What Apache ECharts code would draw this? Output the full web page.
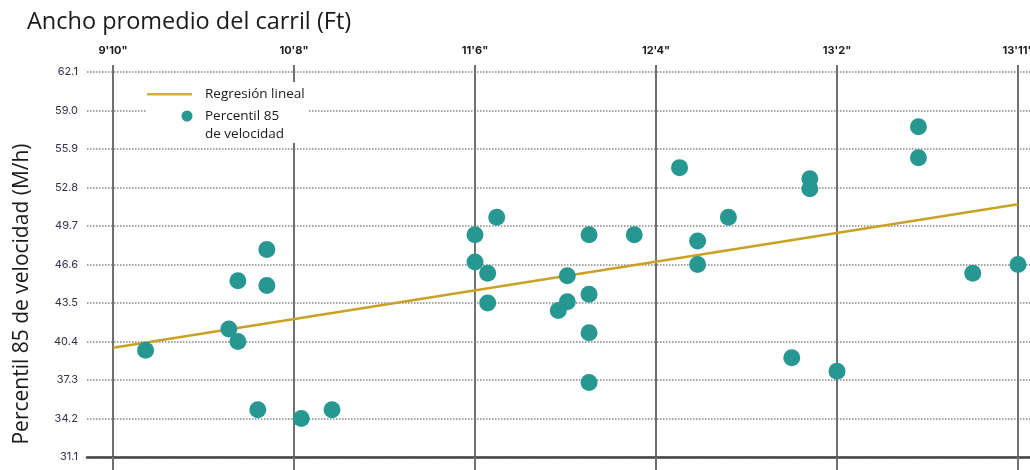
<!DOCTYPE html>
<html>
<head>
<meta charset="utf-8">
<script src="https://cdn.jsdelivr.net/npm/echarts@6/dist/echarts.min.js"></script>
<style>
  html, body { margin: 0; padding: 0; background: #fff; }
  #chart { width: 1030px; height: 470px; }
</style>
</head>
<body>
<div id="chart"></div>
<script>
// Lane width (inches) ticks shown along the top axis
const xTicks = [118, 128, 138, 148, 158, 168];
const xTickLabels = ['9\'10"', '10\'8"', '11\'6"', '12\'4"', '13\'2"', '13\'11"'];
// Speed ticks (mph)
const yTicks = [31.1, 34.2, 37.3, 40.4, 43.5, 46.6, 49.7, 52.8, 55.9, 59.0, 62.1];

// Observed sites: average lane width (inches) and 85th percentile speed
const laneWidthIn = [
  119.8, 124.4, 124.9, 124.9, 126.5, 126.5, 126.0, 128.4, 130.1,
  138.0, 139.2, 138.0, 138.7, 138.7, 143.1, 143.1, 142.6, 144.3, 144.3, 144.3, 144.3, 146.8,
  150.3, 150.3, 152.0, 149.3, 156.5, 156.5, 162.5, 162.5, 155.5, 158.0, 165.5, 168.0
];
const speed85 = [
  39.7, 41.4, 40.4, 45.3, 47.8, 44.9, 34.9, 34.2, 34.9,
  49.0, 50.4, 46.8, 45.9, 43.5, 45.7, 43.6, 42.9, 49.0, 44.2, 41.1, 37.1, 49.0,
  48.5, 46.6, 50.4, 54.4, 53.5, 52.7, 57.7, 55.2, 39.1, 38.0, 45.9, 46.6
];

// Linear regression line endpoints
const regressionX = [118, 168];
const regressionY = [39.9, 51.45];

const seriesNames = ['Regresión lineal', 'Percentil 85 de velocidad'];

const points = laneWidthIn.map((x, i) => [x, speed85[i]]);
const regression = regressionX.map((x, i) => [x, regressionY[i]]);

const Y_MIN = yTicks[0], Y_MAX = yTicks[yTicks.length - 1];
const X_MIN = xTicks[0], X_MAX = xTicks[xTicks.length - 1];
const vLine = { color: '#707070', width: 2 };

const chart = echarts.init(document.getElementById('chart'), null, { renderer: 'canvas' });

chart.setOption({
  animation: false,
  backgroundColor: '#fff',
  title: {
    text: 'Ancho promedio del carril (Ft)',
    left: 27, top: 10, padding: 0,
    textStyle: { fontFamily: 'Open Sans', fontSize: 23.5, fontWeight: 'normal', color: '#1a1a1a' }
  },
  graphic: [
    {
      type: 'rect', left: 146, top: 82, z: 3,
      shape: { width: 163, height: 61 },
      style: { fill: '#fff' }
    },
    {
      type: 'text', x: 22, y: 294, rotation: Math.PI / 2,
      style: {
        text: 'Percentil 85 de velocidad (M/h)',
        fontFamily: 'Open Sans', fontSize: 21, fill: '#1a1a1a',
        align: 'center', verticalAlign: 'middle'
      }
    }
  ],
  legend: [
    {
      data: [{ name: seriesNames[0], icon: 'rect' }], left: 147, top: 87.25, padding: 0,
      itemWidth: 45, itemHeight: 2.5, selectedMode: false, z: 5,
      itemStyle: { color: '#d2ac3c', borderWidth: 0 },
      textStyle: { fontFamily: 'Open Sans', fontSize: 13.5, color: '#1a1a1a', padding: [0, 0, 0, 8] }
    },
    {
      // leading blank line keeps the marker beside the first line of the label
      data: [seriesNames[1]], left: 181.5, top: 89, padding: 0,
      itemWidth: 11, itemHeight: 11, selectedMode: false, z: 5,
      formatter: () => ' \nPercentil 85\nde velocidad',
      textStyle: {
        fontFamily: 'Open Sans', fontSize: 13.5, color: '#1a1a1a',
        lineHeight: 18, padding: [0, 0, 0, 7.5]
      }
    }
  ],
  grid: [
    { left: 87, right: 0, top: 72, bottom: 13, containLabel: false, outerBoundsMode: 'none' },
    { left: 113, right: 12, top: 72, bottom: 13, containLabel: false, outerBoundsMode: 'none' }
  ],
  xAxis: [
    {
      gridIndex: 0, type: 'value', min: 0, max: 1, position: 'bottom',
      axisLine: { show: true, lineStyle: { color: '#444', width: 2.5 } },
      axisTick: { show: false }, axisLabel: { show: false }, splitLine: { show: false }
    },
    {
      gridIndex: 1, type: 'value', min: X_MIN, max: X_MAX, interval: 10, position: 'top',
      axisLine: { show: false },
      axisTick: { show: true, length: 7, customValues: xTicks, lineStyle: vLine },
      axisLabel: {
        show: true, customValues: xTicks, margin: 16,
        formatter: v => xTickLabels[xTicks.indexOf(v)] || '',
        fontFamily: 'Inter', fontSize: 11, fontWeight: 'bold', color: '#1a1a1a'
      },
      splitLine: { show: true, lineStyle: vLine }
    },
    {
      gridIndex: 1, type: 'value', min: X_MIN, max: X_MAX, interval: 10, position: 'bottom',
      axisLine: { show: false },
      axisTick: { show: true, length: 14, customValues: xTicks, lineStyle: vLine },
      axisLabel: { show: false }, splitLine: { show: false }
    }
  ],
  yAxis: [
    {
      gridIndex: 0, type: 'value', min: Y_MIN, max: Y_MAX,
      axisLine: { show: false },
      axisTick: { show: false, customValues: yTicks },
      axisLabel: {
        customValues: yTicks, margin: 9,
        formatter: v => v.toFixed(1),
        fontFamily: 'Inter', fontSize: 11, color: '#33304a'
      },
      splitLine: { show: true, lineStyle: { color: '#858585', width: 1.5, type: [1.5, 1.5] } }
    },
    {
      gridIndex: 1, type: 'value', min: Y_MIN, max: Y_MAX, show: false,
      splitLine: { show: false }
    }
  ],
  series: [
    {
      name: seriesNames[0], type: 'line', xAxisIndex: 1, yAxisIndex: 1,
      data: regression, symbol: 'none', showSymbol: false,
      lineStyle: { color: '#c9a126', width: 2.5 },
      itemStyle: { color: '#d2ac3c' }, z: 2, silent: true
    },
    {
      name: seriesNames[1], type: 'scatter', xAxisIndex: 1, yAxisIndex: 1,
      data: points, symbol: 'circle', symbolSize: 17, clip: false,
      itemStyle: { color: '#279792', opacity: 1 }, z: 3
    }
  ]
});
</script>
</body>
</html>
